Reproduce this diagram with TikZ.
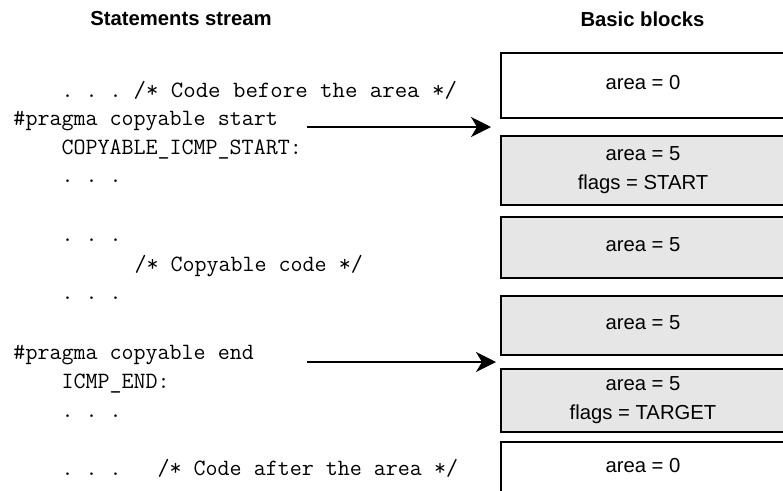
\documentclass[tikz,border=0pt]{standalone}
\usepackage{fontspec}
\setsansfont{Liberation Sans}
\usetikzlibrary{arrows.meta,calc}

\tikzset{every picture/.style={line width=0.75pt}}
\tikzset{
  code/.style={anchor=base west, inner sep=0pt, font=\fontsize{17.5}{20}\ttfamily\frenchspacing},
  heading/.style={anchor=base, inner sep=0pt, font=\fontsize{15.2}{18}\sffamily\bfseries},
  bblock/.style={draw, line width=1.5pt, minimum width=213pt, inner sep=0pt, align=center,
    font=\fontsize{15.2}{21.75}\sffamily},
  copyable/.style={bblock, fill={rgb, 255:red, 230; green, 230; blue, 230 }},
  flow/.style={line width=1.5pt, -{Stealth[length=15pt, width=15pt, inset=4.5pt]}}
}

\begin{document}
\begin{tikzpicture}[x=0.75pt,y=0.75pt,yscale=-1,xscale=1]
\useasboundingbox (0,0) rectangle (783,490);

% Text Node
\node [heading] (hstream) at (181,25) {Statements stream};
% Text Node
\node [heading] (hblocks) at (642.5,26) {Basic blocks};

% Text Node
\node [code] (before) at (61,97) {. . . \scalebox{1.035}[1]{/* Code before the area */}};
% Text Node
\node [code] (pstart) at (13,125) {\#pragma copyable start};
% Text Node
\node [code] (lstart) at (61,154) {COPYABLE\_ICMP\_START:};
% Text Node
\node [code] (dotsa) at (61,182) {. . .};
% Text Node
\node [code] (dotsb) at (61,241) {. . .};
% Text Node
\node [code] (body) at (134,271) {/* Copyable code */};
% Text Node
\node [code] (dotsc) at (61,299) {. . .};
% Text Node
\node [code] (pend) at (13,359) {\#pragma copyable end};
% Text Node
\node [code] (lend) at (61,388) {ICMP\_END:};
% Text Node
\node [code] (dotsd) at (61,417) {. . .};
% Text Node
\node [code] (after) at (61,475) {. . .\ \ \ /* Code after the area */};

%Shape: Rectangle
\node [bblock, minimum height=48.75pt, text depth=4pt] (bb1) at (643,85.5) {area = 0};
%Shape: Rectangle
\node [copyable, minimum height=51.75pt] (bb2) at (643,170.5) {area = 5\\flags = START};
%Shape: Rectangle
\node [copyable, minimum height=45.75pt, text depth=4pt] (bb3) at (643,247.5) {area = 5};
%Shape: Rectangle
\node [copyable, minimum height=44.25pt, text depth=4pt] (bb4) at (643,325.5) {area = 5};
%Shape: Rectangle
\node [copyable, minimum height=47.25pt] (bb5) at (643,400.5) {area = 5\\flags = TARGET};
%Shape: Rectangle
\node [bblock, minimum height=39pt, text depth=4pt] (bb6) at (643,468) {area = 0};

\coordinate (gapA) at ($(bb1.south west)!.5!(bb2.north west)+(-9,0)$);
\coordinate (gapB) at ($(bb4.south west)!.5!(bb5.north west)+(-4,0)$);
\path (pstart.east |- gapA) ++(29,0) coordinate (srcA);

%Straight Lines
\draw [flow] (srcA) -- (gapA);
%Straight Lines
\draw [flow] (srcA |- gapB) -- (gapB);

\end{tikzpicture}
\end{document}
